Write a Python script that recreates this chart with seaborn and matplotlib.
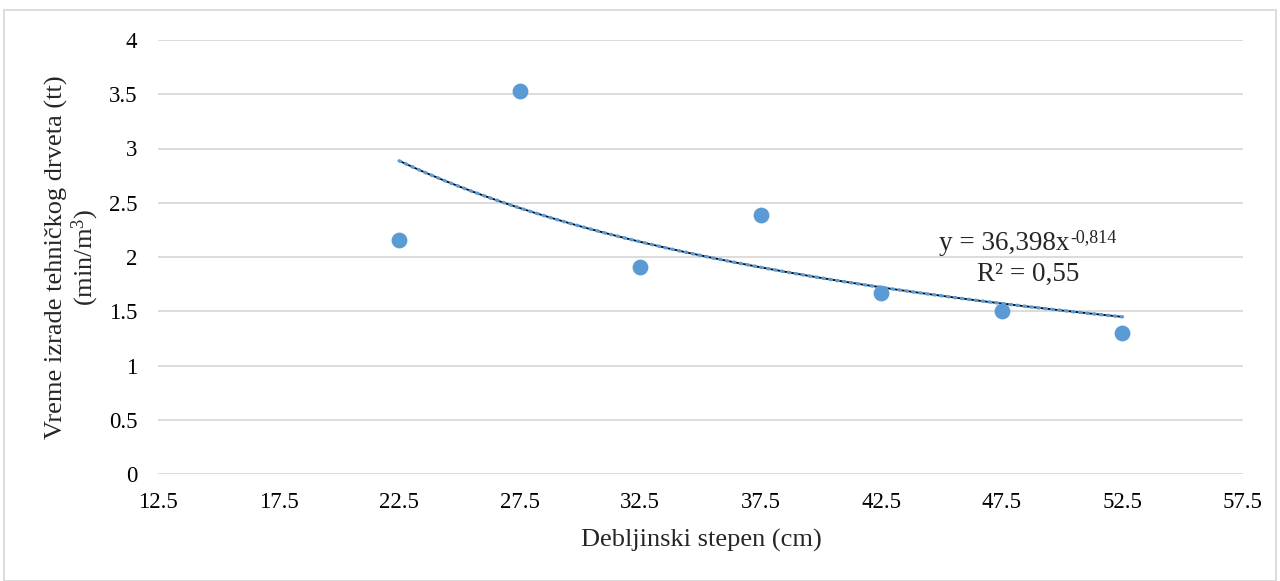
import numpy as np
import pandas as pd
import matplotlib
matplotlib.use("Agg")
import matplotlib.pyplot as plt
import seaborn as sns
from matplotlib.patches import Rectangle

# data
diameter_class = [22.5, 27.5, 32.5, 37.5, 42.5, 47.5, 52.5]
time_per_m3 = [2.16, 3.53, 1.91, 2.39, 1.67, 1.50, 1.30]
trend_a = 36.398
trend_b = -0.814
eq_main = "y = 36,398x"
eq_exp = "-0,814"
r2_label = "R² = 0,55"
x_ticks = [12.5, 17.5, 22.5, 27.5, 32.5, 37.5, 42.5, 47.5, 52.5, 57.5]
y_ticks = [0, 0.5, 1, 1.5, 2, 2.5, 3, 3.5, 4]

sns.set_style("white")
plt.rcParams["font.family"] = ["Liberation Serif", "DejaVu Serif"]
plt.rcParams["mathtext.fontset"] = "custom"
plt.rcParams["mathtext.rm"] = "Liberation Serif"
plt.rcParams["mathtext.it"] = "Liberation Serif:italic"

W, H = 1280, 581
fig = plt.figure(figsize=(W / 100, H / 100), dpi=100)
ax = fig.add_axes([158 / W, 107 / H, (1243 - 158) / W, (474 - 40) / H])

df = pd.DataFrame({"x": diameter_class, "y": time_per_m3})

# power trend line
xs = np.linspace(min(diameter_class), max(diameter_class), 200)
ys = trend_a * xs ** trend_b
ax.plot(xs, ys, color="black", lw=1.3, zorder=2)
ax.plot(xs, ys, color="#5b9bd5", lw=2.4, linestyle=(0, (0.5, 1.6)),
        dash_capstyle="round", zorder=3)

sns.scatterplot(data=df, x="x", y="y", ax=ax, color="#5b9bd5", s=130,
                edgecolor="#5b9bd5", linewidth=0, zorder=4)

ax.set_xlim(12.5, 57.5)
ax.set_ylim(0, 4)
ax.set_xticks(x_ticks)
ax.set_xticklabels([f"{t}" for t in x_ticks])
ax.set_yticks(y_ticks)
ax.set_yticklabels([f"{t:g}" for t in y_ticks])
ax.yaxis.grid(True, color="#d9d9d9", lw=1.3)
ax.xaxis.grid(False)
for s in ax.spines.values():
    s.set_visible(False)
ax.tick_params(axis="both", length=0, labelsize=16.5, colors="black")
ax.tick_params(axis="x", pad=13)
ax.tick_params(axis="y", pad=15)
ax.set_xlabel("")
ax.set_ylabel("")

fig.text(701 / W, 1 - 540 / H, "Debljinski stepen (cm)", fontsize=19,
         ha="center", va="center")
fig.text(73 / W, 1 - 257 / H, "Vreme izrade tehničkog drveta (tt)\n(min/m$^3$)",
         fontsize=19, ha="center", va="center", rotation=90,
         multialignment="center", linespacing=1.05)

# trendline equation
ax.text(50.32, 2.065, eq_main, fontsize=19.5, ha="right", va="baseline")
ax.text(50.32, 2.14, eq_exp, fontsize=13, ha="left", va="baseline")
ax.text(48.58, 1.78, r2_label, fontsize=19.5, ha="center", va="baseline")

fig.patches.append(Rectangle((4 / W, 0), (W - 8) / W, (H - 10) / H,
                             transform=fig.transFigure, fill=False,
                             edgecolor="#d9d9d9", lw=1.3))

fig.savefig("out.png", dpi=100)
